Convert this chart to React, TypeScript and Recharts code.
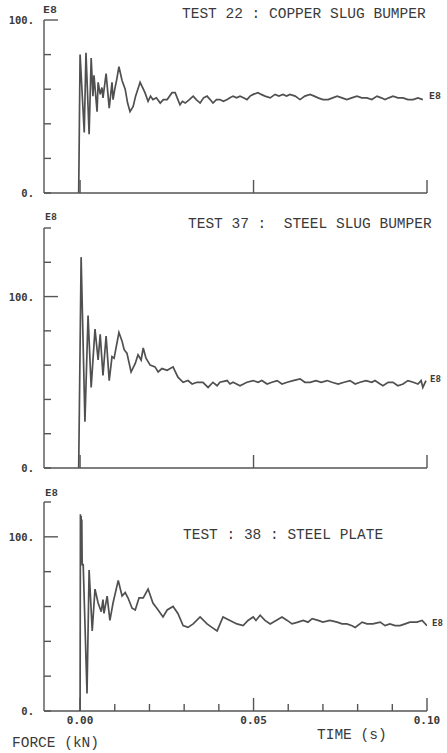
import React from 'react';
import { LineChart, Line, XAxis, YAxis } from 'recharts';

// ---- Panel A: TEST 22 (copper slug bumper) ----
const timeA = [
  -0.0004, 0, 0.0012, 0.0017, 0.0026, 0.0032, 0.0037, 0.0040, 0.0049, 0.0052,
  0.0058, 0.0063, 0.0066, 0.0075, 0.0084, 0.0092, 0.0095, 0.0100, 0.0106, 0.0112,
  0.0121, 0.0130, 0.0137, 0.0144, 0.0153, 0.0160, 0.0173, 0.0180, 0.0187, 0.0196,
  0.0203, 0.0210, 0.0220, 0.0231, 0.0240, 0.0251, 0.0265, 0.0274, 0.0280, 0.0288,
  0.0295, 0.0303, 0.0315, 0.0326, 0.0335, 0.0346, 0.0356, 0.0366, 0.0375, 0.0383,
  0.0393, 0.0403, 0.0413, 0.0424, 0.0432, 0.0441, 0.0451, 0.0461, 0.0471, 0.0481,
  0.0490, 0.0499, 0.0513, 0.0522, 0.0533, 0.0548, 0.0562, 0.0573, 0.0585, 0.0595,
  0.0605, 0.0620, 0.0634, 0.0648, 0.0663, 0.0675, 0.0686, 0.0700, 0.0715, 0.0728,
  0.0741, 0.0755, 0.0769, 0.0783, 0.0798, 0.0812, 0.0827, 0.0841, 0.0856, 0.0868,
  0.0879, 0.0890, 0.0902, 0.0916, 0.0931, 0.0945, 0.0960, 0.0974, 0.0988,
];
const forceA = [
  0, 80, 35, 81, 34, 78, 56, 68, 47, 64,
  57, 61, 55, 69, 49, 64, 54, 60, 66, 73,
  65, 60, 52, 47, 50, 56, 64, 61, 58, 53,
  56, 54, 55, 52, 54, 54, 58, 58, 55, 51,
  53, 52, 54, 56, 54, 52, 55, 56, 54, 52,
  54, 54, 53, 54, 55, 56, 55, 56, 55, 54,
  56, 57, 58, 57, 56, 55, 57, 56, 57, 56,
  57, 56, 54, 56, 57, 56, 55, 54, 54, 55,
  56, 55, 54, 55, 56, 55, 55, 54, 56, 55,
  54, 55, 56, 55, 55, 54, 54, 55, 54,
];

// ---- Panel B: TEST 37 (steel slug bumper) ----
const timeB = [
  -0.0004, 0.0003, 0.0014, 0.0023, 0.0032, 0.0043, 0.0052, 0.0058, 0.0066, 0.0075,
  0.0084, 0.0092, 0.0098, 0.0112, 0.0121, 0.0127, 0.0135, 0.0147, 0.0159, 0.0167,
  0.0176, 0.0182, 0.0190, 0.0202, 0.0216, 0.0225, 0.0236, 0.0251, 0.0268, 0.0282,
  0.0297, 0.0311, 0.0323, 0.0337, 0.0354, 0.0369, 0.0383, 0.0395, 0.0403, 0.0424,
  0.0432, 0.0441, 0.0461, 0.0481, 0.0499, 0.0513, 0.0524, 0.0539, 0.0553, 0.0568,
  0.0582, 0.0597, 0.0614, 0.0634, 0.0648, 0.0663, 0.0680, 0.0695, 0.0712, 0.0726,
  0.0744, 0.0761, 0.0778, 0.0793, 0.0807, 0.0824, 0.0841, 0.0850, 0.0865, 0.0873,
  0.0888, 0.0902, 0.0916, 0.0931, 0.0945, 0.0960, 0.0974, 0.0983, 0.0988, 0.0997,
];
const forceB = [
  0, 123, 27, 89, 47, 81, 63, 78, 54, 77,
  51, 65, 64, 79, 74, 69, 67, 56, 61, 66,
  63, 70, 64, 60, 59, 56, 58, 57, 59, 53,
  50, 51, 49, 50, 50, 47, 50, 48, 50, 51,
  49, 50, 48, 50, 51, 50, 51, 49, 50, 51,
  49, 50, 51, 52, 50, 50, 51, 50, 51, 50,
  49, 50, 51, 49, 50, 51, 50, 51, 49, 48,
  50, 50, 48, 49, 51, 50, 49, 51, 47, 51,
];

// ---- Panel C: TEST 38 (steel plate) ----
const timeC = [
  -0.0004, 0, 0.0001, 0.0002, 0.0003, 0.0004, 0.0005, 0.0006, 0.0009, 0.0020,
  0.0026, 0.0035, 0.0043, 0.0052, 0.0061, 0.0066, 0.0069, 0.0078, 0.0086, 0.0095,
  0.0110, 0.0121, 0.0130, 0.0138, 0.0150, 0.0159, 0.0170, 0.0182, 0.0196, 0.0210,
  0.0225, 0.0239, 0.0251, 0.0268, 0.0282, 0.0297, 0.0311, 0.0326, 0.0346, 0.0366,
  0.0380, 0.0395, 0.0412, 0.0432, 0.0452, 0.0470, 0.0484, 0.0499, 0.0507, 0.0519,
  0.0533, 0.0548, 0.0565, 0.0582, 0.0597, 0.0611, 0.0628, 0.0643, 0.0657, 0.0669,
  0.0686, 0.0700, 0.0720, 0.0741, 0.0755, 0.0769, 0.0784, 0.0793, 0.0813, 0.0827,
  0.0844, 0.0865, 0.0879, 0.0893, 0.0908, 0.0922, 0.0937, 0.0951, 0.0971, 0.0986,
  0.1000,
];
const forceC = [
  0, 0, 113, 86, 112, 85, 110, 84, 84, 10,
  81, 46, 70, 62, 57, 64, 56, 66, 52, 62,
  75, 66, 68, 65, 59, 58, 65, 65, 70, 62,
  58, 54, 58, 60, 56, 49, 48, 50, 54, 50,
  48, 46, 54, 52, 50, 49, 52, 54, 52, 55,
  52, 50, 52, 54, 52, 50, 51, 52, 51, 53,
  52, 51, 52, 51, 50, 50, 49, 48, 51, 50,
  50, 51, 49, 50, 49, 49, 50, 51, 51, 52,
  49,
];

const panelTitles = [
  'TEST 22 : COPPER SLUG BUMPER',
  'TEST 37 :  STEEL SLUG BUMPER',
  'TEST : 38 : STEEL PLATE',
];
const yTicksA = [0, 20, 40, 60, 80, 100];
const yTicksB = [0, 20, 40, 60, 80, 100, 120, 140];
const yTicksC = [0, 20, 40, 60, 80, 100, 120];
const xTicksTop = [0, 0.05, 0.1];
const xTicksBottom = [0, 0.01, 0.02, 0.03, 0.04, 0.05, 0.06, 0.07, 0.08, 0.09, 0.1];
const xTickLabels: Record<string, string> = { '0': '0.00', '0.05': '0.05', '0.1': '0.10' };
const yTickLabels: Record<string, string> = { '0': '0.', '100': '100.' };
const unitTag = 'E8';
const xAxisTitle = 'TIME (s)';
const yAxisTitle = 'FORCE (kN)';

const toRows = (t: number[], f: number[]) => t.map((tt, i) => ({ t: tt, f: f[i] }));
const dataA = toRows(timeA, forceA);
const dataB = toRows(timeB, forceB);
const dataC = toRows(timeC, forceC);

const INK = '#555555';
const TRACE = '#505050';
const TEXT = '#3a3a3a';
const MONO = '"Liberation Mono", "DejaVu Sans Mono", monospace';
const BOLDMONO = '"DejaVu Sans Mono", "Liberation Mono", monospace';

const YTick = (props: any) => {
  const { x, y, payload } = props;
  const v = payload.value;
  const len = v === 100 ? 14 : 7;
  const label = yTickLabels[String(v)];
  return (
    <g>
      <line x1={x} y1={y} x2={x + len} y2={y} stroke={INK} strokeWidth={1.4} />
      {label && (
        <text x={x - 10} y={y + 4} textAnchor="end" fontFamily={BOLDMONO} fontWeight="bold" fontSize={10.5} fill={TEXT}>
          {label}
        </text>
      )}
    </g>
  );
};

const makeXTick = (labelled: boolean) => (props: any) => {
  const { x, y, payload } = props;
  const v = payload.value;
  const key = String(Math.round(v * 100) / 100);
  const major = key === '0' || key === '0.05' || key === '0.1';
  const len = major ? 13 : 7;
  const label = labelled && major ? xTickLabels[key] : null;
  return (
    <g>
      <line x1={x} y1={y} x2={x} y2={y - len} stroke={INK} strokeWidth={1.4} />
      {label && (
        <text x={x} y={y + 13} textAnchor="middle" fontFamily={BOLDMONO} fontWeight="bold" fontSize={11} fill={TEXT}>
          {label}
        </text>
      )}
    </g>
  );
};

const XTickPlain = makeXTick(false);
const XTickLabelled = makeXTick(true);

type PanelProps = {
  top: number;
  height: number;
  marginTop: number;
  xAxisHeight: number;
  data: { t: number; f: number }[];
  yMax: number;
  yTicks: number[];
  xTicks: number[];
  labelled: boolean;
};

const Panel = ({ top, height, marginTop, xAxisHeight, data, yMax, yTicks, xTicks, labelled }: PanelProps) => (
  <div style={{ position: 'absolute', left: 0, top }}>
    <LineChart width={447} height={height} data={data} margin={{ top: marginTop, right: 20, bottom: 0, left: 0 }}>
      <XAxis
        dataKey="t"
        type="number"
        domain={[-0.0104, 0.1]}
        allowDataOverflow
        ticks={xTicks}
        interval={0}
        height={xAxisHeight}
        tickSize={0}
        tickMargin={0}
        tickLine={false}
        axisLine={{ stroke: INK, strokeWidth: 1.4 }}
        tick={labelled ? XTickLabelled : XTickPlain}
      />
      <YAxis
        type="number"
        domain={[0, yMax]}
        allowDataOverflow
        ticks={yTicks}
        interval={0}
        width={44}
        tickSize={0}
        tickMargin={0}
        tickLine={false}
        axisLine={{ stroke: INK, strokeWidth: 1.4 }}
        tick={YTick}
      />
      <Line
        type="linear"
        dataKey="f"
        stroke={TRACE}
        strokeWidth={1.7}
        dot={false}
        isAnimationActive={false}
      />
    </LineChart>
  </div>
);

export default function App() {
  return (
    <div style={{ position: 'absolute', left: 0, top: 0, width: 447, height: 753, background: '#ffffff', overflow: 'hidden' }}>
      <Panel top={0} height={200} marginTop={20} xAxisHeight={7} data={dataA} yMax={100} yTicks={yTicksA} xTicks={xTicksTop} labelled={false} />
      <Panel top={205} height={275} marginTop={23} xAxisHeight={12} data={dataB} yMax={140} yTicks={yTicksB} xTicks={xTicksTop} labelled={false} />
      <Panel top={485} height={268} marginTop={17} xAxisHeight={42} data={dataC} yMax={120} yTicks={yTicksC} xTicks={xTicksBottom} labelled={true} />
      <svg width={447} height={753} style={{ position: 'absolute', left: 0, top: 0, pointerEvents: 'none' }}>
        <g fontFamily={MONO} fontSize={14.5} fill={TEXT}>
          <text x={182} y={18} style={{ whiteSpace: 'pre' }}>{panelTitles[0]}</text>
          <text x={188} y={228} style={{ whiteSpace: 'pre' }}>{panelTitles[1]}</text>
          <text x={183} y={539} style={{ whiteSpace: 'pre' }}>{panelTitles[2]}</text>
          <text x={317} y={739} style={{ whiteSpace: 'pre' }}>{xAxisTitle}</text>
          <text x={12} y={747} style={{ whiteSpace: 'pre' }}>{yAxisTitle}</text>
        </g>
        <g fontFamily={BOLDMONO} fontWeight="bold" fontSize={9} fill={TEXT}>
          <text x={43} y={13} textLength={14} lengthAdjust="spacingAndGlyphs">{unitTag}</text>
          <text x={45} y={220} textLength={12} lengthAdjust="spacingAndGlyphs">{unitTag}</text>
          <text x={45} y={496} textLength={13} lengthAdjust="spacingAndGlyphs">{unitTag}</text>
          <text x={429} y={99} textLength={12} lengthAdjust="spacingAndGlyphs">{unitTag}</text>
          <text x={430} y={382} textLength={11} lengthAdjust="spacingAndGlyphs">{unitTag}</text>
          <text x={432} y={626} textLength={11} lengthAdjust="spacingAndGlyphs">{unitTag}</text>
        </g>
      </svg>
    </div>
  );
}
